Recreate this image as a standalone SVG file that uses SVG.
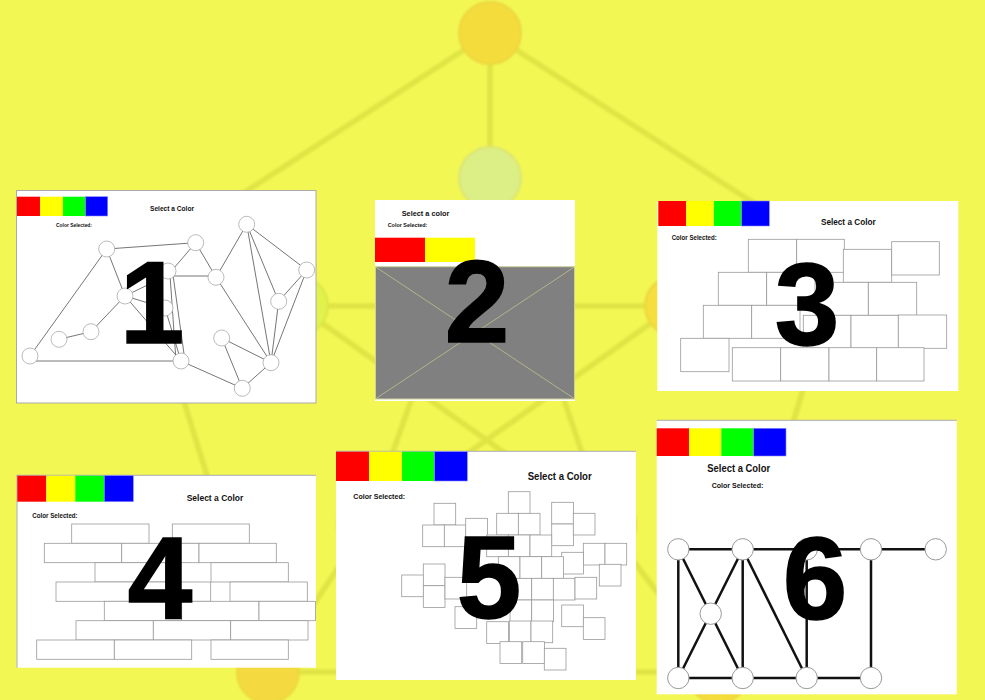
<svg xmlns="http://www.w3.org/2000/svg" width="985" height="700" viewBox="0 0 985 700">
<defs>
<filter id="soft" x="-5%" y="-5%" width="110%" height="110%"><feGaussianBlur stdDeviation="1.2"/></filter>
</defs>
<style>
.bgl{stroke:#e0e444;stroke-width:5.5;stroke-linecap:round;fill:none}
.bgn{stroke-width:2}
.pnl{fill:#fff}
.bd{stroke:#aaa;stroke-width:1}
.tx{font-family:"Liberation Sans",Arial,sans-serif;font-weight:bold;fill:#111;text-anchor:middle}
.dig{font-family:"Liberation Sans",Arial,sans-serif;font-weight:bold;fill:#000;stroke:#000;stroke-width:1.5;text-anchor:middle;font-size:116px}
.e1{stroke:#666;stroke-width:0.9}
.n1{fill:#fff;stroke:#aaa;stroke-width:0.8}
.bk{fill:#fff;stroke:#999;stroke-width:0.8}
.e6{stroke:#111;stroke-width:2.5}
.n6{fill:#fff;stroke:#999;stroke-width:1}
</style>
<rect width="985" height="700" fill="#f2f754"/>
<g id="background" filter="url(#soft)">
<g id="bg-edges">
<line class="bgl" x1="490" y1="33" x2="140" y2="260"/>
<line class="bgl" x1="490" y1="33" x2="842" y2="260"/>
<line class="bgl" x1="140" y1="260" x2="268" y2="672"/>
<line class="bgl" x1="842" y1="260" x2="718" y2="672"/>
<line class="bgl" x1="268" y1="672" x2="718" y2="672"/>
<line class="bgl" x1="490" y1="33" x2="490" y2="178"/>
<line class="bgl" x1="140" y1="260" x2="298" y2="306"/>
<line class="bgl" x1="842" y1="260" x2="675" y2="306"/>
<line class="bgl" x1="268" y1="672" x2="367" y2="525"/>
<line class="bgl" x1="718" y1="672" x2="606" y2="525"/>
<line class="bgl" x1="490" y1="178" x2="367" y2="525"/>
<line class="bgl" x1="490" y1="178" x2="606" y2="525"/>
<line class="bgl" x1="298" y1="306" x2="675" y2="306"/>
<line class="bgl" x1="298" y1="306" x2="606" y2="525"/>
<line class="bgl" x1="675" y1="306" x2="367" y2="525"/>
</g>
<g id="bg-T"><circle class="bgn" cx="490" cy="33" r="31" fill="#f4dc3c" stroke="#ecd640"/></g>
<g id="bg-t"><circle class="bgn" cx="490" cy="178" r="31" fill="#dcee86" stroke="#dbe570"/></g>
<g id="bg-l"><circle class="bgn" cx="298" cy="306" r="30" fill="#e0f24c" stroke="#dbe64a"/></g>
<g id="bg-r"><circle class="bgn" cx="675" cy="306" r="30" fill="#f5de3c" stroke="#ecd640"/></g>
<g id="bg-L"><circle class="bgn" cx="140" cy="260" r="30" fill="#e0f24c" stroke="#dbe64a"/></g>
<g id="bg-R"><circle class="bgn" cx="842" cy="260" r="30" fill="#f5de3c" stroke="#ecd640"/></g>
<g id="bg-BL"><circle class="bgn" cx="268" cy="672" r="31" fill="#f4da40" stroke="#ecd640"/></g>
<g id="bg-BR"><circle class="bgn" cx="718" cy="672" r="31" fill="#f4dc3c" stroke="#ecd640"/></g>
<g id="bg-bl"><circle class="bgn" cx="367" cy="525" r="30" fill="#e0f24c" stroke="#dbe64a"/></g>
<g id="bg-br"><circle class="bgn" cx="606" cy="525" r="30" fill="#f5de3c" stroke="#ecd640"/></g>
</g>

<g id="panel1">
<rect class="pnl bd" x="16.5" y="190.5" width="299.5" height="212.5"/>
<rect x="17" y="196.7" width="23" height="19.3" fill="#ff0000"/>
<rect x="40" y="196.7" width="23" height="19.3" fill="#ffff00"/>
<rect x="63" y="196.7" width="22.5" height="19.3" fill="#00ff00"/>
<rect x="85.5" y="196.7" width="22.2" height="19.3" fill="#0000ff" stroke="#8a8aff" stroke-width="0.6"/>
<text class="tx" x="172" y="210.5" font-size="7.5" textLength="44" lengthAdjust="spacingAndGlyphs">Select a Color</text>
<text class="tx" x="74" y="227" font-size="5.5" textLength="36" lengthAdjust="spacingAndGlyphs">Color Selected:</text>
<g id="p1-edges">
<line class="e1" x1="106.7" y1="249" x2="195.7" y2="242.7"/>
<line class="e1" x1="106.7" y1="249" x2="30" y2="356"/>
<line class="e1" x1="106.7" y1="249" x2="125" y2="296"/>
<line class="e1" x1="125" y1="296" x2="91" y2="331.7"/>
<line class="e1" x1="91" y1="331.7" x2="59" y2="339.3"/>
<line class="e1" x1="30" y1="361" x2="181" y2="361"/>
<line class="e1" x1="195.7" y1="242.7" x2="168" y2="275"/>
<line class="e1" x1="195.7" y1="242.7" x2="216" y2="277.3"/>
<line class="e1" x1="168" y1="276" x2="216" y2="276"/>
<line class="e1" x1="125" y1="296" x2="168" y2="275"/>
<line class="e1" x1="125" y1="296" x2="165" y2="308"/>
<line class="e1" x1="125" y1="296" x2="181" y2="361"/>
<line class="e1" x1="170" y1="275" x2="176" y2="361"/>
<line class="e1" x1="173" y1="275" x2="185" y2="361"/>
<line class="e1" x1="165" y1="308" x2="181" y2="361"/>
<line class="e1" x1="181" y1="361" x2="242.3" y2="388.3"/>
<line class="e1" x1="216" y1="277.3" x2="246.7" y2="224.3"/>
<line class="e1" x1="216" y1="277.3" x2="271" y2="362.7"/>
<line class="e1" x1="246.7" y1="224.3" x2="306.7" y2="270"/>
<line class="e1" x1="246.7" y1="224.3" x2="278.7" y2="301.3"/>
<line class="e1" x1="246.7" y1="224.3" x2="271" y2="362.7"/>
<line class="e1" x1="306.7" y1="270" x2="278.7" y2="301.3"/>
<line class="e1" x1="306.7" y1="270" x2="271" y2="362.7"/>
<line class="e1" x1="278.7" y1="301.3" x2="271" y2="362.7"/>
<line class="e1" x1="221.7" y1="338" x2="271" y2="362.7"/>
<line class="e1" x1="221.7" y1="338" x2="242.3" y2="388.3"/>
<line class="e1" x1="271" y1="362.7" x2="242.3" y2="388.3"/>
</g>
<g id="p1-nodes">
<circle class="n1" cx="106.7" cy="249" r="8"/>
<circle class="n1" cx="195.7" cy="242.7" r="8"/>
<circle class="n1" cx="246.7" cy="224.3" r="8"/>
<circle class="n1" cx="168" cy="271" r="8"/>
<circle class="n1" cx="216" cy="277.3" r="8"/>
<circle class="n1" cx="306.7" cy="270" r="8"/>
<circle class="n1" cx="125" cy="296" r="8"/>
<circle class="n1" cx="165" cy="308" r="8"/>
<circle class="n1" cx="278.7" cy="301.3" r="8"/>
<circle class="n1" cx="91" cy="331.7" r="8"/>
<circle class="n1" cx="59" cy="339.3" r="8"/>
<circle class="n1" cx="221.7" cy="338" r="8"/>
<circle class="n1" cx="30" cy="356" r="8"/>
<circle class="n1" cx="181" cy="361" r="8"/>
<circle class="n1" cx="271" cy="362.7" r="8"/>
<circle class="n1" cx="242.3" cy="388.3" r="8"/>
</g>
<text class="dig" x="152" y="343">1</text>
</g>

<g id="panel2">
<rect class="pnl" x="375" y="200" width="200" height="201"/>
<text class="tx" x="425.5" y="216" font-size="8" textLength="47.6" lengthAdjust="spacingAndGlyphs">Select a color</text>
<text class="tx" x="407.5" y="226.5" font-size="6" textLength="39.6" lengthAdjust="spacingAndGlyphs">Color Selected:</text>
<rect x="375" y="237.7" width="50" height="24.3" fill="#ff0000"/>
<rect x="425" y="237.7" width="50" height="24.3" fill="#ffff00"/>
<rect x="375.5" y="266.7" width="199" height="132.3" fill="#808080" stroke="#cfcf98" stroke-width="1"/>
<line x1="376" y1="267.2" x2="574" y2="398.5" stroke="#c2c28c" stroke-width="0.8"/>
<line x1="574" y1="267.2" x2="376" y2="398.5" stroke="#c2c28c" stroke-width="0.8"/>
<text class="dig" x="477" y="342">2</text>
</g>

<g id="panel3">
<rect class="pnl" x="657.3" y="201" width="301" height="190"/>
<rect x="658.3" y="201" width="27.8" height="25" fill="#ff0000"/>
<rect x="686.1" y="201" width="27.8" height="25" fill="#ffff00"/>
<rect x="713.9" y="201" width="27.7" height="25" fill="#00ff00"/>
<rect x="741.6" y="201" width="27.7" height="25" fill="#0000ff" stroke="#8a8aff" stroke-width="0.6"/>
<text class="tx" x="848.3" y="224.5" font-size="9.5" textLength="54.7" lengthAdjust="spacingAndGlyphs">Select a Color</text>
<text class="tx" x="694.2" y="240" font-size="7" textLength="45" lengthAdjust="spacingAndGlyphs">Color Selected:</text>
<g id="p3-bricks">
<rect class="bk" x="748.3" y="239.3" width="48.4" height="33"/>
<rect class="bk" x="796.7" y="239.3" width="47.6" height="33"/>
<rect class="bk" x="843.3" y="249.3" width="48.4" height="33"/>
<rect class="bk" x="891.7" y="241.7" width="47.6" height="33.3"/>
<rect class="bk" x="718.3" y="272.3" width="48.4" height="33"/>
<rect class="bk" x="766.7" y="272.3" width="48.3" height="33"/>
<rect class="bk" x="820" y="282.3" width="48.3" height="33"/>
<rect class="bk" x="868.3" y="282.3" width="48.4" height="33"/>
<rect class="bk" x="703.3" y="305.3" width="48.4" height="33"/>
<rect class="bk" x="751.7" y="305.3" width="48.3" height="33"/>
<rect class="bk" x="803.3" y="315.3" width="47.7" height="33"/>
<rect class="bk" x="851" y="315.3" width="47.3" height="33"/>
<rect class="bk" x="898.3" y="315" width="48.4" height="33.3"/>
<rect class="bk" x="680.7" y="338.3" width="48.3" height="33.4"/>
<rect class="bk" x="732.3" y="347.7" width="48.4" height="33.3"/>
<rect class="bk" x="780.7" y="347.7" width="48.3" height="33.3"/>
<rect class="bk" x="829" y="347.7" width="47.7" height="33.3"/>
<rect class="bk" x="876.7" y="347.7" width="47.3" height="33.3"/>
</g>
<text class="dig" x="807" y="345">3</text>
</g>

<g id="panel4">
<rect class="pnl" x="16.7" y="475" width="299.3" height="192.7"/>
<line class="bd" x1="16.7" y1="475.3" x2="316" y2="475.3"/>
<line class="bd" x1="17" y1="475" x2="17" y2="667.7"/>
<rect x="17.3" y="475.7" width="29" height="26" fill="#ff0000"/>
<rect x="46.3" y="475.7" width="29" height="26" fill="#ffff00"/>
<rect x="75.3" y="475.7" width="29" height="26" fill="#00ff00"/>
<rect x="104.3" y="475.7" width="29" height="26" fill="#0000ff" stroke="#8a8aff" stroke-width="0.6"/>
<text class="tx" x="215" y="500.5" font-size="9.5" textLength="56.6" lengthAdjust="spacingAndGlyphs">Select a Color</text>
<text class="tx" x="55" y="517.5" font-size="7" textLength="45.4" lengthAdjust="spacingAndGlyphs">Color Selected:</text>
<g id="p4-bricks">
<rect class="bk" x="71.7" y="524" width="77.3" height="19.3"/>
<rect class="bk" x="172.3" y="524" width="77" height="19.3"/>
<rect class="bk" x="44.3" y="543.3" width="77.4" height="19.4"/>
<rect class="bk" x="121.7" y="543.3" width="77.3" height="19.4"/>
<rect class="bk" x="199" y="543.3" width="77.3" height="19.4"/>
<rect class="bk" x="95" y="562.7" width="77.3" height="19.3"/>
<rect class="bk" x="211" y="562.7" width="77.3" height="19.3"/>
<rect class="bk" x="56" y="582" width="77.3" height="19.3"/>
<rect class="bk" x="133.3" y="582" width="77.4" height="19.3"/>
<rect class="bk" x="230" y="582" width="77.3" height="19.3"/>
<rect class="bk" x="104.3" y="601.3" width="77.4" height="19.4"/>
<rect class="bk" x="181.7" y="601.3" width="77.3" height="19.4"/>
<rect class="bk" x="259" y="601.3" width="56.5" height="19.4"/>
<rect class="bk" x="76" y="620.7" width="77.3" height="19.3"/>
<rect class="bk" x="153.3" y="620.7" width="77.4" height="19.3"/>
<rect class="bk" x="230.7" y="620.7" width="77.3" height="19.3"/>
<rect class="bk" x="36.7" y="640" width="77.6" height="19.3"/>
<rect class="bk" x="114.3" y="640" width="77.4" height="19.3"/>
<rect class="bk" x="211" y="640" width="77.3" height="19.3"/>
</g>
<text class="dig" x="160" y="618">4</text>
</g>

<g id="panel5">
<rect class="pnl" x="336" y="451" width="300" height="229"/>
<line class="bd" x1="336" y1="451.3" x2="636" y2="451.3"/>
<rect x="336" y="451.7" width="33" height="29.3" fill="#ff0000"/>
<rect x="369" y="451.7" width="33" height="29.3" fill="#ffff00"/>
<rect x="402" y="451.7" width="32.5" height="29.3" fill="#00ff00"/>
<rect x="434.5" y="451.7" width="32.8" height="29.3" fill="#0000ff" stroke="#8a8aff" stroke-width="0.6"/>
<text class="tx" x="559.7" y="479.5" font-size="11" textLength="64" lengthAdjust="spacingAndGlyphs">Select a Color</text>
<text class="tx" x="379.2" y="498.7" font-size="8" textLength="51.7" lengthAdjust="spacingAndGlyphs">Color Selected:</text>
<g id="p5-squares">
<rect class="bk" x="434" y="503.3" width="21.7" height="21.7"/>
<rect class="bk" x="422.7" y="525" width="21.7" height="21.7"/>
<rect class="bk" x="444.3" y="525" width="21.7" height="21.7"/>
<rect class="bk" x="465.7" y="518.3" width="21.7" height="21.7"/>
<rect class="bk" x="508.3" y="491.7" width="21.7" height="21.7"/>
<rect class="bk" x="496.7" y="513.3" width="21.7" height="21.7"/>
<rect class="bk" x="518.3" y="513.3" width="21.7" height="21.7"/>
<rect class="bk" x="551.7" y="502.3" width="21.7" height="21.7"/>
<rect class="bk" x="551.7" y="524" width="21.7" height="21.7"/>
<rect class="bk" x="573.3" y="513.3" width="21.7" height="21.7"/>
<rect class="bk" x="486.7" y="535" width="21.7" height="21.7"/>
<rect class="bk" x="508.3" y="535" width="21.7" height="21.7"/>
<rect class="bk" x="530" y="535" width="21.7" height="21.7"/>
<rect class="bk" x="583.3" y="543.3" width="21.7" height="21.7"/>
<rect class="bk" x="605" y="543.3" width="21.7" height="21.7"/>
<rect class="bk" x="561.7" y="552.3" width="21.7" height="21.7"/>
<rect class="bk" x="599.3" y="564.3" width="21.7" height="21.7"/>
<rect class="bk" x="401.7" y="575" width="21.7" height="21.7"/>
<rect class="bk" x="423.3" y="564" width="21.7" height="21.7"/>
<rect class="bk" x="423.3" y="585.7" width="21.7" height="21.7"/>
<rect class="bk" x="445" y="577.3" width="21.7" height="21.7"/>
<rect class="bk" x="498.3" y="556.7" width="21.7" height="21.7"/>
<rect class="bk" x="520" y="556.7" width="21.7" height="21.7"/>
<rect class="bk" x="541.7" y="556.7" width="21.7" height="21.7"/>
<rect class="bk" x="510" y="578.3" width="21.7" height="21.7"/>
<rect class="bk" x="531.7" y="578.3" width="21.7" height="21.7"/>
<rect class="bk" x="553.3" y="578.3" width="21.7" height="21.7"/>
<rect class="bk" x="575" y="577.3" width="21.7" height="21.7"/>
<rect class="bk" x="455" y="606.7" width="21.7" height="21.7"/>
<rect class="bk" x="510" y="600" width="21.7" height="21.7"/>
<rect class="bk" x="531.7" y="600" width="21.7" height="21.7"/>
<rect class="bk" x="561.7" y="605" width="21.7" height="21.7"/>
<rect class="bk" x="583.3" y="617.7" width="21.7" height="21.7"/>
<rect class="bk" x="486.7" y="621.7" width="21.7" height="21.7"/>
<rect class="bk" x="509.3" y="621" width="21.7" height="21.7"/>
<rect class="bk" x="531" y="621" width="21.7" height="21.7"/>
<rect class="bk" x="500" y="641.7" width="21.7" height="21.7"/>
<rect class="bk" x="522.7" y="641.7" width="21.7" height="21.7"/>
<rect class="bk" x="544.3" y="648.3" width="21.7" height="21.7"/>
</g>
<text class="dig" x="489" y="618">5</text>
</g>

<g id="panel6">
<rect class="pnl" x="656.7" y="420" width="300" height="274.3"/>
<line class="bd" x1="656.7" y1="420.3" x2="956.7" y2="420.3"/>
<rect x="656.7" y="428.3" width="32.3" height="27.7" fill="#ff0000"/>
<rect x="689" y="428.3" width="32.3" height="27.7" fill="#ffff00"/>
<rect x="721.3" y="428.3" width="32.4" height="27.7" fill="#00ff00"/>
<rect x="753.7" y="428.3" width="32.3" height="27.7" fill="#0000ff" stroke="#8a8aff" stroke-width="0.6"/>
<text class="tx" x="738.7" y="472" font-size="11" textLength="62.7" lengthAdjust="spacingAndGlyphs">Select a Color</text>
<text class="tx" x="737.5" y="488" font-size="8" textLength="51.6" lengthAdjust="spacingAndGlyphs">Color Selected:</text>
<g id="p6-edges">
<line class="e6" x1="678.3" y1="549.3" x2="935.7" y2="549.3"/>
<line class="e6" x1="678.3" y1="678" x2="871" y2="678"/>
<line class="e6" x1="678.3" y1="549.3" x2="678.3" y2="678"/>
<line class="e6" x1="742.7" y1="549.3" x2="742.7" y2="678"/>
<line class="e6" x1="806.7" y1="549.3" x2="806.7" y2="678"/>
<line class="e6" x1="871" y1="549.3" x2="871" y2="678"/>
<line class="e6" x1="678.3" y1="549.3" x2="742.7" y2="678"/>
<line class="e6" x1="742.7" y1="549.3" x2="678.3" y2="678"/>
<line class="e6" x1="742.7" y1="549.3" x2="806.7" y2="678"/>
</g>
<g id="p6-nodes">
<circle class="n6" cx="678.3" cy="549.3" r="10.7"/>
<circle class="n6" cx="742.7" cy="549.3" r="10.7"/>
<circle class="n6" cx="806.7" cy="549.3" r="10.7"/>
<circle class="n6" cx="871" cy="549.3" r="10.7"/>
<circle class="n6" cx="935.7" cy="549.3" r="10.7"/>
<circle class="n6" cx="710.7" cy="613.7" r="10.7"/>
<circle class="n6" cx="678.3" cy="678" r="10.7"/>
<circle class="n6" cx="742.7" cy="678" r="10.7"/>
<circle class="n6" cx="806.7" cy="678" r="10.7"/>
<circle class="n6" cx="871" cy="678" r="10.7"/>
</g>
<text class="dig" x="815" y="619">6</text>
</g>
</svg>
